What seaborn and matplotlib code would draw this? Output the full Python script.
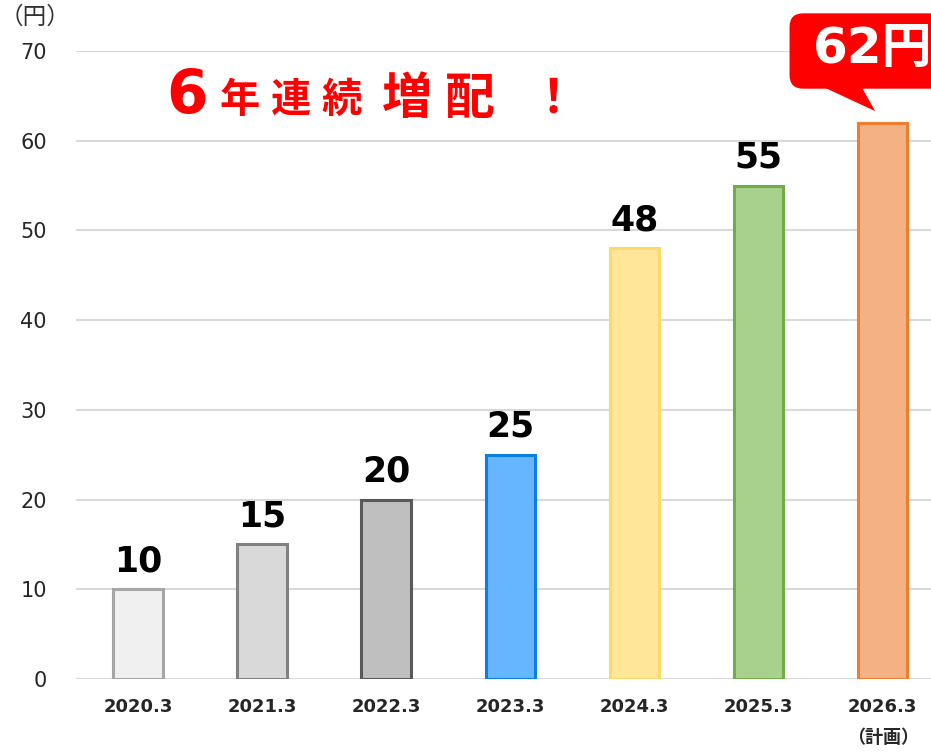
import matplotlib
matplotlib.use('Agg')
import matplotlib.pyplot as plt
import seaborn as sns
import pandas as pd
from matplotlib.patches import FancyBboxPatch, Polygon

# data
years = ['2020.3', '2021.3', '2022.3', '2023.3', '2024.3', '2025.3', '2026.3']
dividends = [10, 15, 20, 25, 48, 55, 62]
tick_labels = ['2020.3', '2021.3', '2022.3', '2023.3', '2024.3', '2025.3', '2026.3\n（計画）']
face_colors = ['#F0F0F0', '#D9D9D9', '#BFBFBF', '#66B5FF', '#FFE699', '#A9D18E', '#F4B183']
edge_colors = ['#A6A6A6', '#808080', '#595959', '#0A7FE0', '#FFD966', '#70AD47', '#ED7D31']

sns.set_style('white')
plt.rcParams['font.family'] = ['DejaVu Sans', 'Noto Sans CJK JP']
JP = ['Noto Sans CJK JP', 'DejaVu Sans']

df = pd.DataFrame({'year': years, 'dividend': dividends})

fig = plt.figure(figsize=(9.31, 7.52), dpi=100)
ax = fig.add_axes([76 / 931, 1 - 679 / 752, 1 - 76 / 931, (679 - 51) / 752])

sns.barplot(data=df, x='year', y='dividend', hue='year', palette=face_colors,
            saturation=1, legend=False, width=0.4, ax=ax, zorder=3)
for patch, ec in zip(ax.patches, edge_colors):
    patch.set_edgecolor(ec)
    patch.set_linewidth(2.2)

ax.set_ylim(0, 70)
ax.set_xlim(-0.5, 6.39)
ax.set_yticks(range(0, 71, 10))
ax.yaxis.grid(True, color='#D9D9D9', linewidth=1.5, zorder=0)
ax.xaxis.grid(False)
sns.despine(ax=ax, left=True, bottom=True, right=True, top=True)
ax.tick_params(axis='y', length=0, labelsize=15, pad=21)
ax.tick_params(axis='x', length=0, pad=14)
ax.set_xticks(range(len(years)))
ax.set_xticklabels(tick_labels, fontsize=13, fontweight='bold', linespacing=1.9)
for t in ax.get_xticklabels():
    t.set_family(['DejaVu Sans', 'Noto Sans CJK JP'])
ax.set_xlabel('')
ax.set_ylabel('')

# value labels (last one sits in the callout)
for i, v in enumerate(dividends[:-1]):
    ax.text(i, v + 1.2, str(v), ha='center', va='bottom', fontsize=25,
            fontweight='bold', color='black')

# unit label
fig.text(35 / 931, 1 - 17 / 752, '（円）', ha='center', va='center', fontsize=17,
         color='#333333', family=JP)

# headline
red = '#FF0000'
fig.text(166 / 931, 1 - 96 / 752, '6', ha='left', va='center', fontsize=43,
         fontweight='bold', color=red)
for k, ch in enumerate('年連続'):
    fig.text((240 + 51 * k) / 931, 1 - 100 / 752, ch, ha='center', va='center',
             fontsize=29, fontweight='bold', color=red, family=JP)
for k, ch in enumerate('増配'):
    fig.text((407 + 63 * k) / 931, 1 - 99 / 752, ch, ha='center', va='center',
             fontsize=36, fontweight='bold', color=red, family=JP)
fig.text(553 / 931, 1 - 99 / 752, '！', ha='center', va='center', fontsize=34,
         fontweight='bold', color=red, family=JP)

# callout for plan value
box = FancyBboxPatch((5.25, 65.8), 1.7, 8.4, boxstyle='round,pad=0,rounding_size=0.11',
                     facecolor=red, edgecolor='none', clip_on=False, zorder=5,
                     mutation_aspect=124 / 8.97)
ax.add_patch(box)
tail = Polygon([(5.52, 66.0), (5.83, 66.0), (5.94, 63.3)], closed=True,
               facecolor=red, edgecolor='none', clip_on=False, zorder=5)
ax.add_patch(tail)
ax.text(5.44, 70.2, '62円', ha='left', va='center', fontsize=36, fontweight='bold',
        color='white', clip_on=False, zorder=6, family=['DejaVu Sans', 'Noto Sans CJK JP'])

fig.savefig('out.png', dpi=100)
